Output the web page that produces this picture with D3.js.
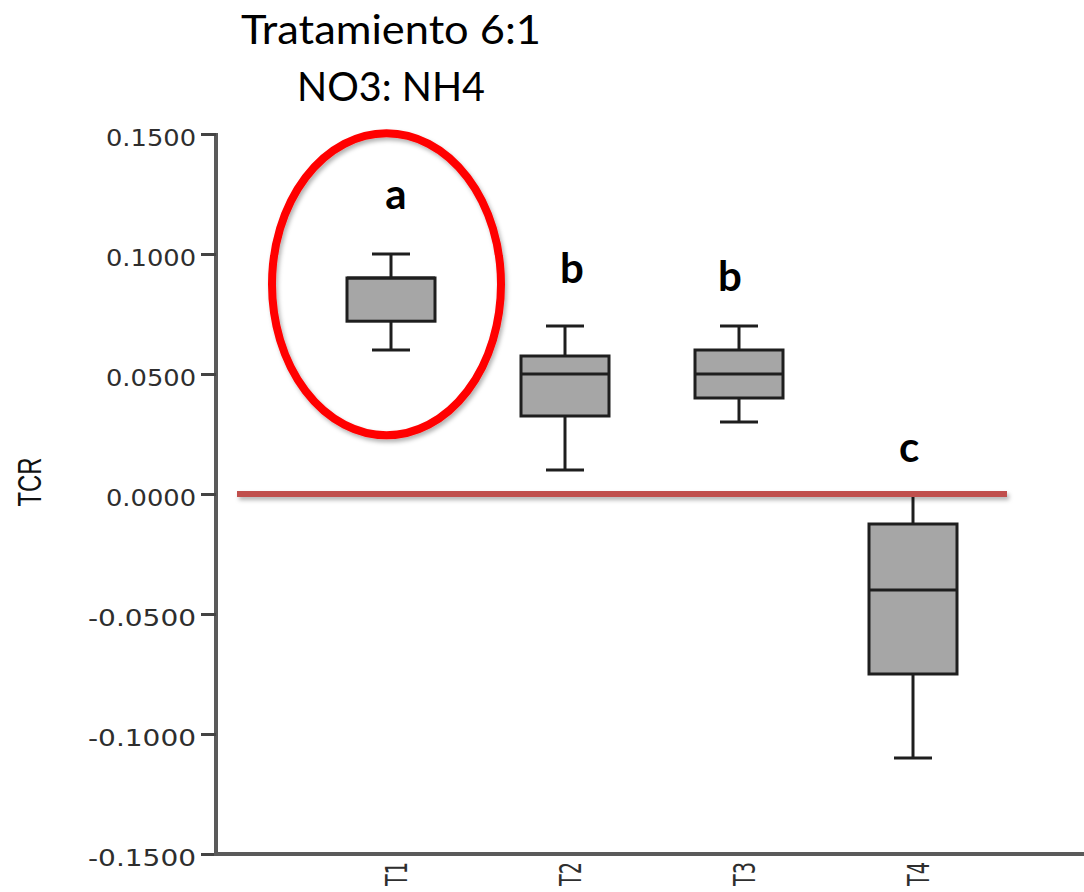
<!DOCTYPE html>
<html>
<head>
<meta charset="utf-8">
<script src="https://cdn.jsdelivr.net/npm/d3@7"></script>
<style>
  html, body { margin: 0; padding: 0; background: #fff; }
  svg { display: block; }
</style>
</head>
<body>
<svg id="chart" width="1084" height="892"></svg>
<script>
// ---- data ----
const categories = ["T1", "T2", "T3", "T4"];
const whiskerHigh = [0.100, 0.070, 0.070, 0.000];
const q3Values    = [0.090, 0.0575, 0.060, -0.0125];
const medians     = [0.090, 0.050, 0.050, -0.040];
const q1Values    = [0.072, 0.0325, 0.040, -0.075];
const whiskerLow  = [0.060, 0.010, 0.030, -0.110];
const groupLetters = ["a", "b", "b", "c"];
const yTickValues = [0.15, 0.10, 0.05, 0.0, -0.05, -0.10, -0.15];
const titleLines = ["Tratamiento 6:1", "NO3: NH4"];
const yAxisTitle = "TCR";

// ---- layout ----
const axisX = 216, yTop = 134, yBottom = 854;
const boxW = 88, capW = 38;
const letterLift = [45, 43, 35, 32];
const letterShift = [5, 7, -9, -4];

const svg = d3.select("#chart");
const defs = svg.append("defs");
const f = defs.append("filter").attr("id", "shadow")
  .attr("filterUnits", "userSpaceOnUse")
  .attr("x", 0).attr("y", 0).attr("width", 1084).attr("height", 892);
f.append("feDropShadow").attr("dx", 2).attr("dy", 3).attr("stdDeviation", 2)
  .attr("flood-color", "#000").attr("flood-opacity", 0.3);

const y = d3.scaleLinear().domain([-0.15, 0.15]).range([yBottom, yTop]);
const x = d3.scalePoint().domain(categories).range([axisX + 1, 1087]).padding(1);

// Title
svg.append("g").selectAll("text").data(titleLines).join("text")
  .attr("x", 391).attr("y", (d, i) => 44 + i * 57)
  .attr("text-anchor", "middle")
  .attr("font-family", "Lato, 'Open Sans', sans-serif")
  .attr("font-size", 41).attr("fill", "#000")
  .attr("textLength", (d, i) => i === 0 ? 300 : 188)
  .attr("lengthAdjust", "spacingAndGlyphs")
  .text(d => d);

// Y axis
const yAxis = svg.append("g").attr("transform", `translate(${axisX},0)`)
  .call(d3.axisLeft(y).tickValues(yTickValues).tickSize(15).tickPadding(5)
        .tickFormat(d => d.toFixed(4)));
yAxis.select(".domain").attr("stroke", "#5a5a5a").attr("stroke-width", 4)
  .attr("d", `M0,${yTop - 1}V${yBottom + 2}`);
yAxis.selectAll(".tick line").attr("stroke", "#444").attr("stroke-width", 3);
yAxis.selectAll(".tick text")
  .attr("font-family", "'DejaVu Sans', Verdana, sans-serif")
  .attr("font-size", 23).attr("fill", "#2e2e2e")
  .attr("dy", "0.48em")
  .attr("textLength", d => d < 0 ? 108 : 90)
  .attr("lengthAdjust", "spacingAndGlyphs");

// X axis
const xAxis = svg.append("g").attr("transform", `translate(0,${yBottom})`)
  .call(d3.axisBottom(x).tickSize(0).tickPadding(8));
xAxis.select(".domain").attr("stroke", "#5a5a5a").attr("stroke-width", 4)
  .attr("d", `M${axisX - 2},0H1084`);
xAxis.selectAll(".tick text")
  .attr("font-family", "'DejaVu Sans', Verdana, sans-serif")
  .attr("font-size", 31).attr("fill", "#2e2e2e")
  .attr("text-anchor", "end")
  .attr("transform", "rotate(-90)")
  .attr("x", -8).attr("y", 15).attr("dy", 0)
  .attr("textLength", 24)
  .attr("lengthAdjust", "spacingAndGlyphs");

// Y title
svg.append("text")
  .attr("transform", `translate(41,${y(0) - 12}) rotate(-90)`)
  .attr("text-anchor", "middle")
  .attr("font-family", "'Liberation Sans', Arial, sans-serif")
  .attr("font-size", 33).attr("fill", "#111")
  .attr("textLength", 49)
  .attr("lengthAdjust", "spacingAndGlyphs")
  .text(yAxisTitle);

// Boxes
const data = categories.map((c, i) => ({
  c, hi: whiskerHigh[i], q3: q3Values[i], med: medians[i], q1: q1Values[i], lo: whiskerLow[i]
}));
const g = svg.append("g").selectAll("g").data(data).join("g")
  .attr("transform", d => `translate(${x(d.c)},0)`);
const stroke = "#1e1e1e";
g.append("line").attr("x1", 0).attr("x2", 0).attr("y1", d => y(d.hi)).attr("y2", d => y(d.q3))
  .attr("stroke", stroke).attr("stroke-width", 3);
g.append("line").attr("x1", 0).attr("x2", 0).attr("y1", d => y(d.q1)).attr("y2", d => y(d.lo))
  .attr("stroke", stroke).attr("stroke-width", 3);
g.append("line").attr("x1", -capW / 2).attr("x2", capW / 2).attr("y1", d => y(d.hi)).attr("y2", d => y(d.hi))
  .attr("stroke", stroke).attr("stroke-width", 3);
g.append("line").attr("x1", -capW / 2).attr("x2", capW / 2).attr("y1", d => y(d.lo)).attr("y2", d => y(d.lo))
  .attr("stroke", stroke).attr("stroke-width", 3);
g.append("rect").attr("x", -boxW / 2).attr("width", boxW)
  .attr("y", d => y(d.q3)).attr("height", d => y(d.q1) - y(d.q3))
  .attr("fill", "#a6a6a6").attr("stroke", stroke).attr("stroke-width", 3);
g.append("line").attr("x1", -boxW / 2).attr("x2", boxW / 2).attr("y1", d => y(d.med)).attr("y2", d => y(d.med))
  .attr("stroke", stroke).attr("stroke-width", 3);

// Zero reference line
svg.append("rect")
  .attr("x", axisX + 21).attr("width", x("T4") + 94 - (axisX + 21))
  .attr("y", y(0) - 3).attr("height", 6)
  .attr("fill", "#c0504d")
  .attr("filter", "url(#shadow)");

// Group letters
svg.append("g").selectAll("text").data(data).join("text")
  .attr("x", (d, i) => x(d.c) + letterShift[i])
  .attr("y", (d, i) => y(d.hi) - letterLift[i])
  .attr("text-anchor", "middle")
  .attr("font-family", "Lato, 'Open Sans', sans-serif")
  .attr("font-weight", "bold").attr("font-size", 42).attr("fill", "#000")
  .text((d, i) => groupLetters[i]);

// Highlight ellipse around T1
svg.append("ellipse")
  .attr("cx", x("T1") - 4.5).attr("cy", y(0.0874))
  .attr("rx", 114.5).attr("ry", 151)
  .attr("fill", "none").attr("stroke", "#ff0000").attr("stroke-width", 8)
  .attr("filter", "url(#shadow)");
</script>
</body>
</html>
